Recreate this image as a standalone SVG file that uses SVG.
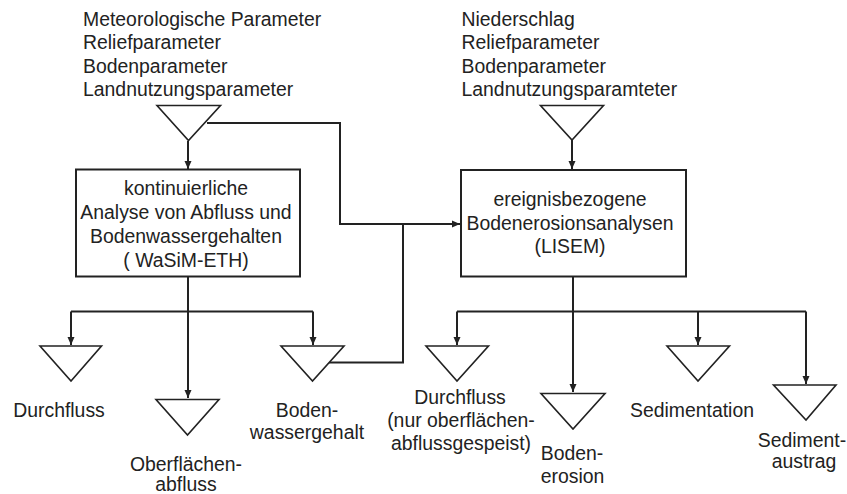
<svg xmlns="http://www.w3.org/2000/svg" width="847" height="494" viewBox="0 0 847 494">
<style>
text{font-family:"Liberation Sans",Arial,sans-serif;font-size:19.4px;fill:#222}
.c{text-anchor:middle}
.box{fill:#fff;stroke:#222;stroke-width:2}
.tri{fill:#fff;stroke:#222;stroke-width:1.6;stroke-linejoin:miter}
.ln{fill:none;stroke:#222;stroke-width:2}
.ar{marker-end:url(#ah)}
</style>
<defs>
<marker id="ah" markerUnits="userSpaceOnUse" markerWidth="9" markerHeight="9" refX="8" refY="4" orient="auto">
<path d="M0,0.5 L8,4 L0,7.5 z" fill="#222"/>
</marker>
</defs>
<rect width="847" height="494" fill="#fff"/>

<g id="connectors">
<path class="ln ar" d="M188,141 V169"/>
<path class="ln ar" d="M207,123 H340 V224 H460"/>
<path class="ln ar" d="M572,140 V169"/>
<path class="ln" d="M188,277 V311.5 M71,311.5 H313"/>
<path class="ln ar" d="M71,311.5 V345"/>
<path class="ln ar" d="M188,311.5 V398"/>
<path class="ln ar" d="M313,311.5 V345"/>
<path class="ln" d="M329,362.5 H403 V224"/>
<path class="ln" d="M573,277 V311.5 M457,311.5 H806"/>
<path class="ln ar" d="M457,311.5 V345"/>
<path class="ln ar" d="M573,311.5 V392"/>
<path class="ln ar" d="M698,311.5 V345"/>
<path class="ln ar" d="M806,311.5 V384"/>
</g>

<g id="input-left">
<text x="83" y="25.5">Meteorologische Parameter</text>
<text x="83" y="49">Reliefparameter</text>
<text x="83" y="72.5">Bodenparameter</text>
<text x="83" y="96">Landnutzungsparameter</text>
<polygon class="tri" points="157,105.5 220.5,105.5 188.5,140.5"/>
</g>

<g id="input-right">
<text x="461.5" y="25.5">Niederschlag</text>
<text x="461.5" y="49">Reliefparameter</text>
<text x="461.5" y="72.5">Bodenparameter</text>
<text x="461.5" y="96">Landnutzungsparamteter</text>
<polygon class="tri" points="540.5,105.5 603.5,105.5 572,140"/>
</g>

<g id="wasim">
<rect class="box" x="76" y="169.5" width="224" height="107"/>
<text class="c" x="186" y="195">kontinuierliche</text>
<text class="c" x="186" y="219">Analyse von Abfluss und</text>
<text class="c" x="186" y="243">Bodenwassergehalten</text>
<text class="c" x="186" y="267">( WaSiM-ETH)</text>
</g>

<g id="lisem">
<rect class="box" x="461" y="170" width="225" height="106.5"/>
<text class="c" x="570" y="206">ereignisbezogene</text>
<text class="c" x="570" y="230">Bodenerosionsanalysen</text>
<text class="c" x="570" y="253">(LISEM)</text>
</g>

<g id="durchfluss">
<polygon class="tri" points="40,346 101.5,346 71,381"/>
<text class="c" x="59" y="417">Durchfluss</text>
</g>

<g id="oberflaechenabfluss">
<polygon class="tri" points="156,399.5 219,399.5 187.5,435"/>
<text class="c" x="186" y="470.5">Oberflächen-</text>
<text class="c" x="186" y="490.5">abfluss</text>
</g>

<g id="bodenwassergehalt">
<polygon class="tri" points="281,346 344,346 312.5,381"/>
<text class="c" x="307" y="417">Boden-</text>
<text class="c" x="307" y="438.5">wassergehalt</text>
</g>

<g id="durchfluss-lisem">
<polygon class="tri" points="426,346 488.5,346 457,381"/>
<text class="c" x="460" y="404">Durchfluss</text>
<text class="c" x="461" y="427">(nur oberflächen-</text>
<text class="c" x="461" y="450">abflussgespeist)</text>
</g>

<g id="bodenerosion">
<polygon class="tri" points="541,393.5 605,393.5 573,429"/>
<text class="c" x="572" y="460">Boden-</text>
<text class="c" x="572.5" y="483">erosion</text>
</g>

<g id="sedimentation">
<polygon class="tri" points="667,346 729.5,346 698,381"/>
<text class="c" x="692" y="416.5">Sedimentation</text>
</g>

<g id="sedimentaustrag">
<polygon class="tri" points="773.5,385 836,385 806,420"/>
<text class="c" x="802" y="446.5">Sediment-</text>
<text class="c" x="804" y="468">austrag</text>
</g>
</svg>
